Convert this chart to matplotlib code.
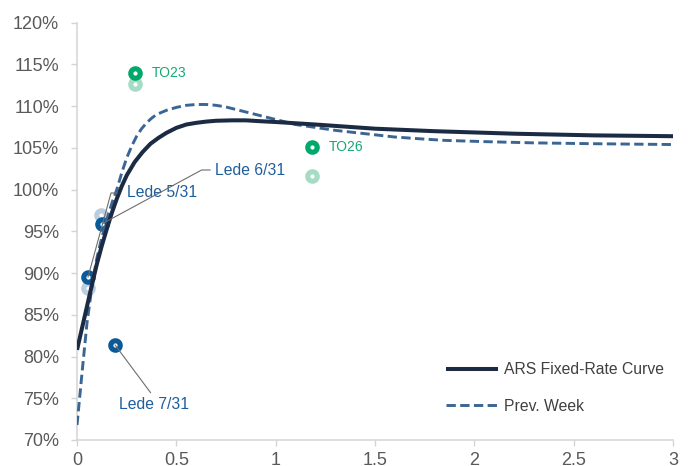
import matplotlib
matplotlib.use("Agg")
import matplotlib.pyplot as plt
from matplotlib.ticker import FixedLocator

plt.rcParams["font.family"] = ["Liberation Sans", "DejaVu Sans"]

# Fitted curve (this week), tenor in years vs. yield in %
curve_tenor = [0.0, 0.025, 0.05, 0.075, 0.10, 0.125, 0.15, 0.175, 0.20, 0.225,
               0.25, 0.29, 0.33, 0.37, 0.41, 0.45, 0.50, 0.55, 0.60, 0.65,
               0.70, 0.78, 0.85, 0.92, 1.00, 1.10, 1.20, 1.35, 1.50, 1.65,
               1.80, 2.00, 2.20, 2.40, 2.60, 2.80, 3.00]
curve_yield = [80.8, 83.4, 86.0, 88.6, 91.1, 93.3, 95.3, 97.2, 98.9, 100.4,
               101.7, 103.3, 104.5, 105.5, 106.2, 106.8, 107.4, 107.8, 108.0, 108.15,
               108.25, 108.3, 108.3, 108.2, 108.1, 107.95, 107.8, 107.55, 107.3, 107.15,
               107.0, 106.85, 106.7, 106.6, 106.5, 106.45, 106.4]

# Fitted curve (previous week)
prev_curve_tenor = [0.0, 0.025, 0.05, 0.08, 0.10, 0.12, 0.14, 0.16, 0.18, 0.20,
                    0.225, 0.25, 0.275, 0.30, 0.325, 0.35, 0.375, 0.40, 0.45, 0.50,
                    0.55, 0.60, 0.65, 0.70, 0.75, 0.80, 0.875, 0.95, 1.025, 1.10,
                    1.20, 1.30, 1.45, 1.60, 1.75, 1.85, 2.05, 2.30, 2.60, 3.00]
prev_curve_yield = [71.8, 78.0, 84.0, 89.2, 91.8, 93.8, 95.6, 97.2, 98.7, 100.0,
                    102.0, 103.8, 105.2, 106.4, 107.3, 108.0, 108.55, 109.0, 109.5, 109.85,
                    110.1, 110.2, 110.2, 110.1, 109.9, 109.6, 109.15, 108.7, 108.25, 107.8,
                    107.45, 107.1, 106.7, 106.3, 106.05, 105.9, 105.75, 105.6, 105.5, 105.4]

# Individual bonds: this week
bond_names = ["Lede 5/31", "Lede 6/31", "Lede 7/31", "TO23", "TO26"]
bond_kind = ["lede", "lede", "lede", "to", "to"]
bond_tenor = [0.055, 0.126, 0.191, 0.292, 1.183]
bond_yield = [89.5, 95.9, 81.4, 114.0, 105.1]

# Individual bonds: previous week
prev_kind = ["lede", "lede", "to", "to"]
prev_tenor = [0.055, 0.121, 0.292, 1.183]
prev_yield = [88.2, 97.0, 112.6, 101.6]

y_ticks = [70, 75, 80, 85, 90, 95, 100, 105, 110, 115, 120]
x_ticks = [0, 0.5, 1, 1.5, 2, 2.5, 3]
x_labels = ["0", "0.5", "1", "1.5", "2", "2.5", "3"]

dark = {"lede": "#0A5A9A", "to": "#00A86B"}
light = {"lede": "#BACDE1", "to": "#A6DCC6"}
text_col = {"lede": "#1F5E9C", "to": "#14AA74"}

fig = plt.figure(figsize=(6.89, 4.66), dpi=100)
ax = fig.add_axes([0.1118, 0.0558, 0.8650, 0.8955])

ring = dict(marker="o", markersize=6.8, markeredgewidth=3.7,
            markerfacecolor="white", linestyle="none")

for k, x, y in zip(prev_kind, prev_tenor, prev_yield):
    ax.plot([x], [y], markeredgecolor=light[k], zorder=3, **ring)
for k, x, y in zip(bond_kind, bond_tenor, bond_yield):
    ax.plot([x], [y], markeredgecolor=dark[k], zorder=4, **ring)

ax.plot(curve_tenor, curve_yield, color="#1B2B44", lw=2.9,
        solid_capstyle="butt", solid_joinstyle="round", zorder=6,
        label="ARS Fixed-Rate Curve")
ax.plot(prev_curve_tenor, prev_curve_yield, color="#3B6592", lw=2.1,
        dashes=(3.2, 1.5), zorder=5, label="Prev. Week")

# Bond labels with leader lines
lead = dict(arrowstyle="-", color="#6E6E6E", lw=0.8, shrinkB=0)
ix = {n: i for i, n in enumerate(bond_names)}

i = ix["Lede 5/31"]
ax.annotate("Lede 5/31", xy=(bond_tenor[i], bond_yield[i]), xytext=(0.252, 99.6),
            color=text_col["lede"], fontsize=11.3, ha="left", va="center",
            arrowprops=dict(connectionstyle="angle,angleA=180,angleB=74.7,rad=0",
                            relpos=(0, 0.5), shrinkA=5, **lead), zorder=7)
i = ix["Lede 6/31"]
ax.annotate("Lede 6/31", xy=(bond_tenor[i], bond_yield[i]), xytext=(0.695, 102.35),
            color=text_col["lede"], fontsize=11.3, ha="left", va="center",
            arrowprops=dict(connectionstyle="angle,angleA=180,angleB=28.4,rad=0",
                            relpos=(0, 0.5), shrinkA=1.5, **lead), zorder=7)
i = ix["Lede 7/31"]
ax.annotate("Lede 7/31", xy=(bond_tenor[i], bond_yield[i]), xytext=(0.385, 74.3),
            color=text_col["lede"], fontsize=11.3, ha="center", va="center",
            arrowprops=dict(relpos=(0.5, 1.0), shrinkA=1, **lead), zorder=7)
for name, tx in (("TO23", 0.377), ("TO26", 1.268)):
    i = ix[name]
    ax.text(tx, bond_yield[i], name, color=text_col["to"], fontsize=10,
            ha="left", va="center", zorder=7)

ax.set_xlim(0, 3)
ax.set_ylim(70, 120)
ax.xaxis.set_major_locator(FixedLocator(x_ticks))
ax.set_xticklabels(x_labels)
ax.yaxis.set_major_locator(FixedLocator(y_ticks))
ax.set_yticklabels([f"{v}%" for v in y_ticks])

for side in ("top", "right"):
    ax.spines[side].set_visible(False)
for side in ("left", "bottom"):
    ax.spines[side].set_color("#D4D4D4")
    ax.spines[side].set_linewidth(1.1)
ax.tick_params(axis="y", direction="out", length=4, width=1.0, color="#D4D4D4",
               labelsize=13, labelcolor="#595959", pad=9)
ax.tick_params(axis="x", direction="out", length=4.3, width=1.0, color="#D4D4D4",
               labelsize=13, labelcolor="#595959", pad=4.5)

leg = ax.legend(loc="upper left", bbox_to_anchor=(0.619, 0.186), frameon=False,
                fontsize=11.3, handlelength=3.3, handletextpad=0.4,
                labelspacing=1.35, borderaxespad=0, borderpad=0)
for t in leg.get_texts():
    t.set_color("#404040")

fig.savefig("out.png", dpi=100)
